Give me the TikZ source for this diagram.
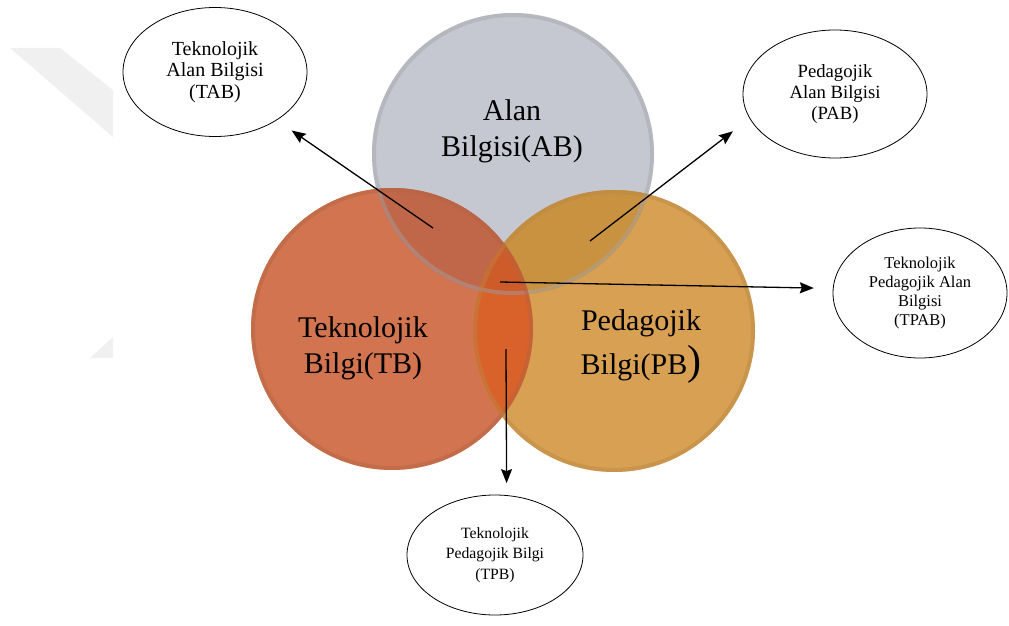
\documentclass[tikz,border=0pt]{standalone}
\usepackage{fontspec}
\setmainfont{Liberation Serif}
\usetikzlibrary{arrows.meta,shapes.geometric}

\definecolor{abgray}{HTML}{C6C8D1}
\definecolor{tborange}{HTML}{D2744F}
\definecolor{pbgold}{HTML}{D8A052}
\definecolor{abtb}{HTML}{C0674A}
\definecolor{abpb}{HTML}{C99241}
\definecolor{tbpb}{HTML}{D9622B}
\definecolor{tpabcol}{HTML}{CE5C2A}
\definecolor{wmgray}{HTML}{F0F0F0}

\begin{document}
\begin{tikzpicture}[x=1pt,y=-1pt,
  bubble/.style={draw,ellipse,inner sep=0pt,align=center,line width=0.8pt},
  big/.style={align=center,font=\fontsize{30}{36}\selectfont},
  rim/.style={line width=4pt,draw opacity=.45},
  pointer/.style={->,line width=1.3pt},
  >={Stealth[length=14pt,width=11pt,inset=2pt]}]
\useasboundingbox (0,0) rectangle (1009,626);
% faint watermark
\fill[wmgray] (10,48) -- (60,48) -- (113,90) -- (113,137) -- cycle;
\fill[wmgray] (90,358) -- (113,337) -- (113,358) -- cycle;
% circles
\fill[abgray] (513,154) circle[radius=141pt];
\fill[tborange] (392,329) circle[radius=141pt];
\fill[pbgold] (614,331) circle[radius=141pt];
\begin{scope}
\clip (513,154) circle[radius=141pt];
\fill[abtb] (392,329) circle[radius=141pt];
\fill[abpb] (614,331) circle[radius=141pt];
\end{scope}
\begin{scope}
\clip (392,329) circle[radius=141pt];
\fill[tbpb] (614,331) circle[radius=141pt];
\clip (513,154) circle[radius=141pt];
\fill[tpabcol] (614,331) circle[radius=141pt];
\end{scope}
\draw[rim,abgray!82!black] (513,154) circle[radius=139pt];
\draw[rim,tborange!85!black] (392,329) circle[radius=139pt];
\draw[rim,pbgold!85!black] (614,331) circle[radius=139pt];
% circle texts
\node[big] (ab) at (512,131) {Alan\\Bilgisi(AB)};
\node[big] (tb) at (363,348) {Teknolojik\\Bilgi(TB)};
\node[big,font=\fontsize{30}{44}\selectfont] (pb) at (641,347) {Pedagojik\\Bilgi(PB{\fontsize{42}{42}\selectfont)}};
% outer bubbles
\node[bubble,minimum width=184pt,minimum height=129pt,font=\fontsize{20}{21.5}\selectfont] (tabn) at (215,72) {Teknolojik\\Alan Bilgisi\\(TAB)};
\node[bubble,minimum width=184pt,minimum height=128pt,font=\fontsize{18.7}{21}\selectfont] (pabn) at (835,94) {Pedagojik\\Alan Bilgisi\\(PAB)};
\node[bubble,minimum width=174pt,minimum height=130pt,font=\fontsize{16.5}{18.7}\selectfont] (tpabn) at (920,293) {Teknolojik\\Pedagojik Alan\\Bilgisi\\(TPAB)};
\node[bubble,minimum width=176pt,minimum height=120pt,font=\fontsize{15.7}{20.5}\selectfont] (tpbn) at (495,555) {Teknolojik\\Pedagojik Bilgi\\(TPB)};
% arrows
\coordinate (s1) at (433,228);
\coordinate (s2) at (590,241);
\coordinate (s3) at (500,282);
\coordinate (s4) at (506,349);
\draw[pointer,shorten >=18pt] (s1) -- (tabn.322);
\draw[pointer,shorten >=21pt] (s2) -- (pabn.196);
\draw[pointer,shorten >=19pt] (s3) -- (tpabn.177);
\draw[pointer,shorten >=12pt] (s4) -- (tpbn.79);
\end{tikzpicture}
\end{document}
